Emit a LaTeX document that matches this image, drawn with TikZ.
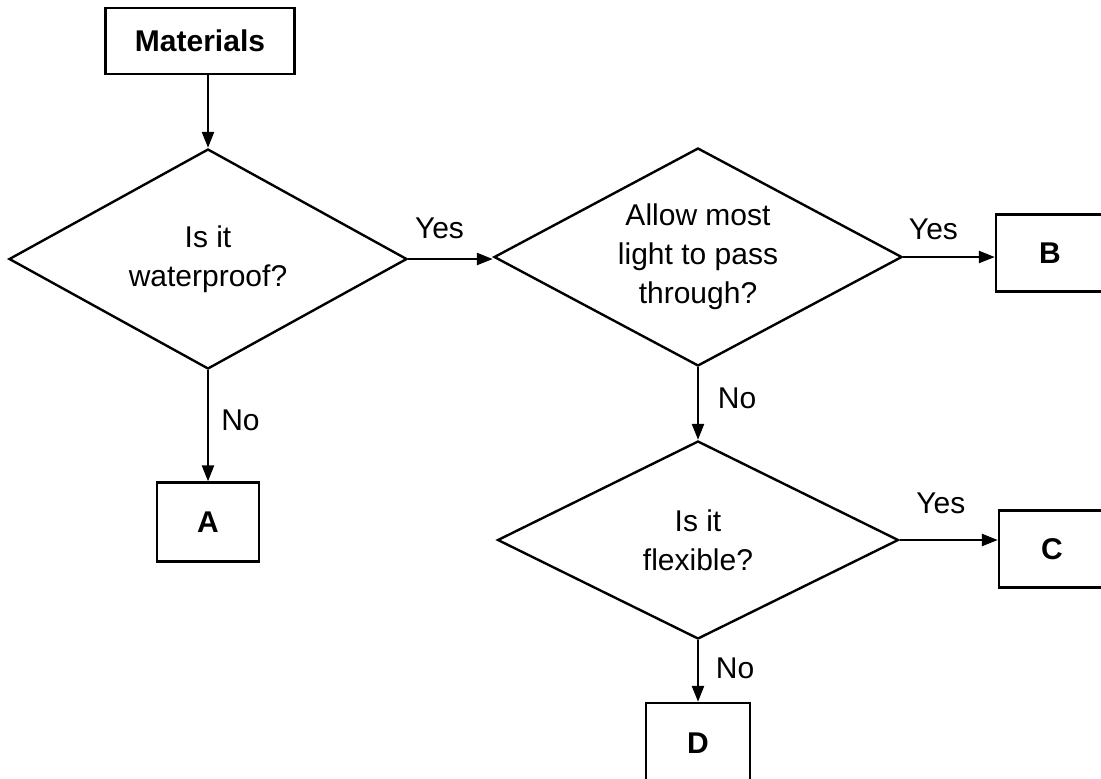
\documentclass[tikz,border=0pt]{standalone}
\usepackage{fontspec}
\setmainfont{Liberation Sans}
\usetikzlibrary{arrows.meta,positioning,shapes.geometric}

\begin{document}
\begin{tikzpicture}[x=0.5pt,y=-0.5pt,
        box/.style={draw,line width=1.2pt,inner sep=0pt,font=\fontsize{15}{18}\selectfont\bfseries},
        decision/.style={draw,diamond,aspect=2,line width=1.2pt,inner sep=0pt,align=center,font=\fontsize{15}{19.5}\selectfont},
        arrow/.style={-{Triangle[length=8pt,width=6pt]},line width=1.2pt},
        answer/.style={font=\fontsize{15}{18}\selectfont}]

        \useasboundingbox (0,0) rectangle (1101,778);

        % start box
        \node[box,minimum width=94.5pt,minimum height=33pt] (materials) at (200,41) {Materials};

        % decision diamonds
        \node[decision,minimum width=199pt,minimum height=110pt] (decWater) at (208,259) {Is it\\waterproof?};
        \node[decision,minimum width=204pt,minimum height=109pt] (decLight) at (698,257) {Allow most\\light to pass\\through?};
        \node[decision,minimum width=200.5pt,minimum height=99pt] (decFlex) at (698,540) {Is it\\flexible?};

        % result boxes
        \node[box,minimum width=51pt,minimum height=39.5pt] (boxA) at (208,522) {A};
        \node[box,minimum width=54pt,minimum height=38.5pt] (boxB) at (1050,253) {B};
        \node[box,minimum width=53pt,minimum height=38.5pt] (boxC) at (1052,549) {C};
        \node[box,minimum width=52pt,minimum height=40pt] (boxD) at (698,743) {D};

        % arrows with answers
        \draw[arrow] (materials.south -| decWater.north) -- (decWater.north);
        \draw[arrow] (decWater.east) -- node[answer,above=6pt,pos=0.37] (yesWater) {Yes} (decWater.east -| decLight.west);
        \draw[arrow] (decWater.south) -- node[answer,right=2.7pt,pos=0.45] (noWater) {No} (boxA.north);
        \draw[arrow] (decLight.east) -- node[answer,above=4.5pt,pos=0.33] (yesLight) {Yes} (decLight.east -| boxB.west);
        \draw[arrow] (decLight.south) -- node[answer,right=6pt,pos=0.43] (noLight) {No} (decFlex.north);
        \draw[arrow] (decFlex.east) -- node[answer,above=9pt,pos=0.42] (yesFlex) {Yes} (decFlex.east -| boxC.west);
        \draw[arrow] (decFlex.south) -- node[answer,right=5pt,pos=0.45] (noFlex) {No} (boxD.north);

\end{tikzpicture}
\end{document}
